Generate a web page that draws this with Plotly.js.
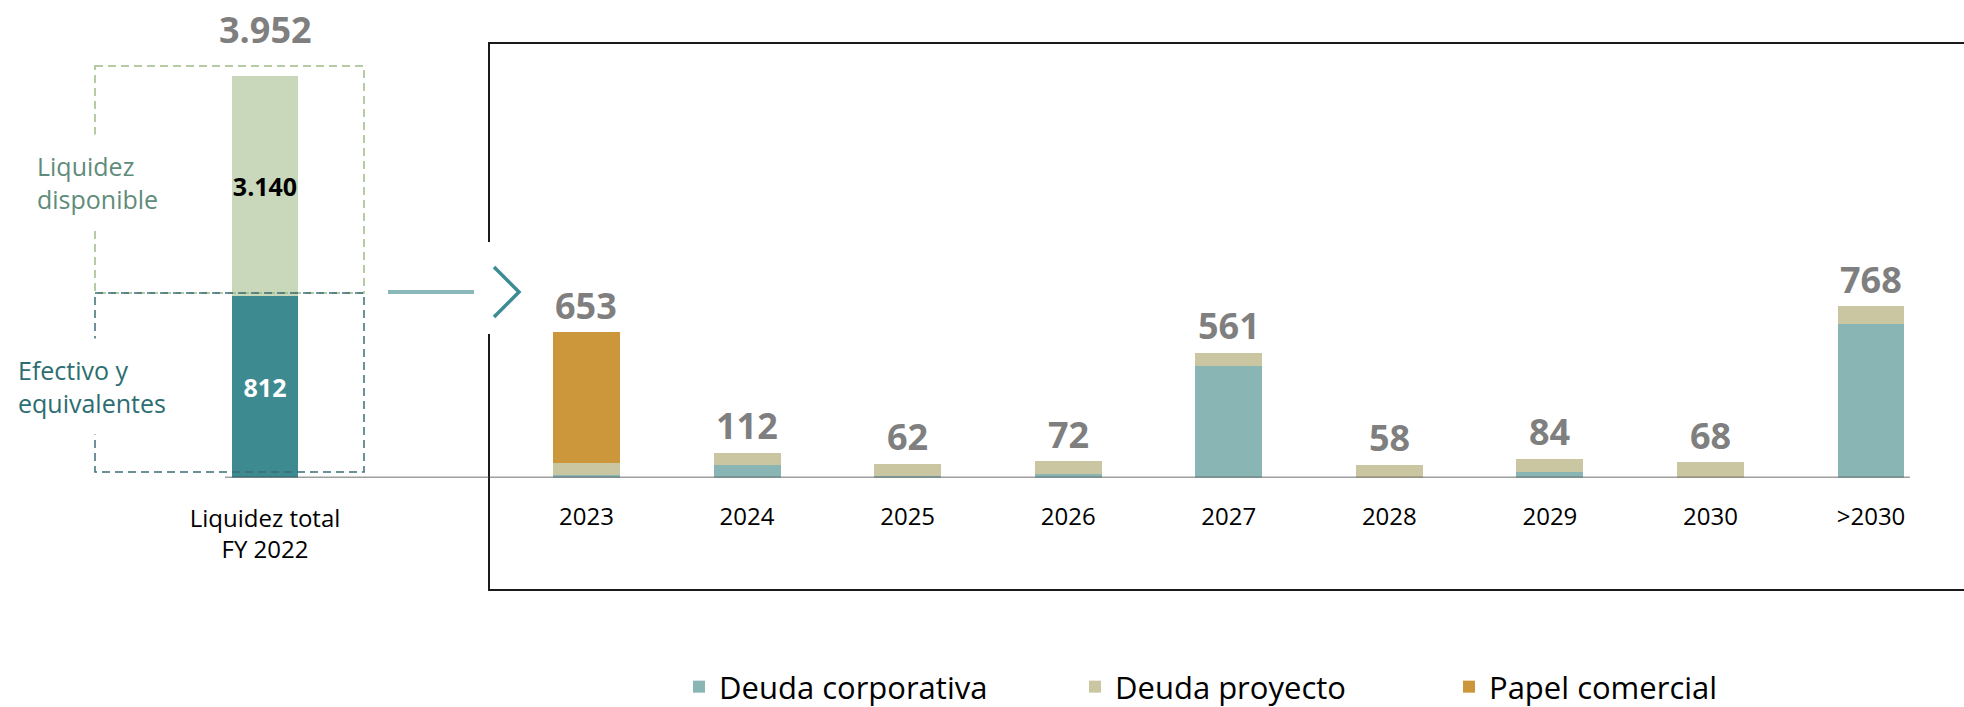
<!DOCTYPE html>
<html>
<head>
<meta charset="utf-8">
<script src="https://cdn.plot.ly/plotly-3.0.1.min.js"></script>
<style>
  html, body { margin: 0; padding: 0; background: #ffffff; }
  #chart { width: 1964px; height: 707px; }
</style>
</head>
<body>
<div id="chart"></div>
<script>
// ---------------- DATA ----------------
const categories = ['2023', '2024', '2025', '2026', '2027', '2028', '2029', '2030', '>2030'];
const deudaCorporativa = [12, 55, 5, 14, 500, 0, 25, 0, 690];
const deudaProyecto    = [55, 57, 57, 58, 61, 58, 59, 68, 78];
const papelComercial   = [586, 0, 0, 0, 0, 0, 0, 0, 0];

const liquidezCategory   = ['Liquidez total<br>FY 2022'];
const efectivo           = [812];
const liquidezDisponible = [3140];

const seriesNames = ['Deuda corporativa', 'Deuda proyecto', 'Papel comercial'];

// ---------------- HELPERS ----------------
const W = 1964, H = 707;
const X = p => p / W;
const Y = p => 1 - p / H;
const fmt = n => String(n).replace(/\B(?=(\d{3})+(?!\d))/g, '.');

const totals = categories.map((c, i) => deudaCorporativa[i] + deudaProyecto[i] + papelComercial[i]);
const liquidezTotal = efectivo[0] + liquidezDisponible[0];

const FONT = 'Open Sans, Noto Sans, sans-serif';
const cTeal = '#8ab5b5', cBeige = '#cbc6a2', cOrange = '#cc973a';

// ---------------- TRACES ----------------
const traces = [
  { type: 'bar', x: categories, y: deudaCorporativa, name: seriesNames[0],
    marker: { color: cTeal }, xaxis: 'x', yaxis: 'y', legend: 'legend', hoverinfo: 'skip' },
  { type: 'bar', x: categories, y: deudaProyecto, name: seriesNames[1],
    marker: { color: cBeige }, xaxis: 'x', yaxis: 'y', legend: 'legend2', hoverinfo: 'skip' },
  { type: 'bar', x: categories, y: papelComercial, name: seriesNames[2],
    marker: { color: cOrange }, xaxis: 'x', yaxis: 'y', legend: 'legend3', hoverinfo: 'skip' },
  { type: 'bar', x: liquidezCategory, y: efectivo, showlegend: false,
    marker: { color: '#3d8a91' }, xaxis: 'x2', yaxis: 'y2',
    text: efectivo.map(fmt), textposition: 'inside', insidetextanchor: 'middle',
    constraintext: 'none', textangle: 0,
    textfont: { family: FONT, size: 25, color: '#ffffff', weight: 700 }, hoverinfo: 'skip' },
  { type: 'bar', x: liquidezCategory, y: liquidezDisponible, showlegend: false,
    marker: { color: '#c9d7bb' }, xaxis: 'x2', yaxis: 'y3',
    text: liquidezDisponible.map(fmt), textposition: 'inside', insidetextanchor: 'middle',
    constraintext: 'none', textangle: 0,
    textfont: { family: FONT, size: 25, color: '#000000', weight: 700 }, hoverinfo: 'skip' }
];

// ---------------- ANNOTATIONS ----------------
const annotations = categories.map((c, i) => ({
  xref: 'x', yref: 'y', x: i, y: totals[i], text: fmt(totals[i]),
  yanchor: 'middle', yshift: 27, showarrow: false,
  font: { family: FONT, size: 36, color: '#7f7f7f', weight: 700 }
}));
annotations.push({
  xref: 'x2', yref: 'y3', x: 0, y: liquidezDisponible[0], text: fmt(liquidezTotal),
  yanchor: 'middle', yshift: 47, showarrow: false,
  font: { family: FONT, size: 36, color: '#7f7f7f', weight: 700 }
});
annotations.push({
  xref: 'paper', yref: 'paper', x: X(22), y: Y(183), xanchor: 'left', yanchor: 'middle',
  text: 'Liquidez<br>disponible', align: 'left', showarrow: false,
  bgcolor: '#ffffff', borderpad: 14,
  font: { family: FONT, size: 25, color: '#5f8c7a' }
});
annotations.push({
  xref: 'paper', yref: 'paper', x: X(3), y: Y(386), xanchor: 'left', yanchor: 'middle',
  text: 'Efectivo y<br>equivalentes', align: 'left', showarrow: false,
  bgcolor: '#ffffff', borderpad: 14,
  font: { family: FONT, size: 25, color: '#2c6d72' }
});

// ---------------- SHAPES ----------------
const path = pts => pts.map((p, i) => (i ? 'L' : 'M') + X(p[0]) + ',' + Y(p[1])).join(' ');
const shapes = [
  // frame (gap on the left edge for the chevron)
  { type: 'path', xref: 'paper', yref: 'paper', layer: 'below',
    path: path([[489, 242], [489, 43], [1975, 43]]), line: { color: '#1a1a1a', width: 2 } },
  { type: 'path', xref: 'paper', yref: 'paper', layer: 'below',
    path: path([[489, 334], [489, 590], [1975, 590]]), line: { color: '#1a1a1a', width: 2 } },
  // baseline
  { type: 'line', xref: 'paper', yref: 'y', x0: X(225), x1: X(1910), y0: 0, y1: 0,
    layer: 'above', line: { color: '#404040', width: 1.5 } },
  // dashed boxes
  { type: 'rect', xref: 'paper', yref: 'paper', x0: X(95), x1: X(364), y0: Y(66), y1: Y(293),
    layer: 'above', line: { color: '#9dba85', width: 1.5, dash: '8px,5px' } },
  { type: 'rect', xref: 'paper', yref: 'paper', x0: X(95), x1: X(364), y0: Y(293), y1: Y(472),
    layer: 'above', line: { color: '#3b6d78', width: 1.5, dash: '8px,5px' } },
  // arrow line + chevron
  { type: 'line', xref: 'paper', yref: 'paper', x0: X(388), x1: X(474), y0: Y(292), y1: Y(292),
    line: { color: '#8ab8b8', width: 4 } },
  { type: 'path', xref: 'paper', yref: 'paper',
    path: path([[494, 267], [519, 292], [494, 317]]), line: { color: '#3d8c94', width: 3.5 } }
];

// ---------------- LAYOUT ----------------
const legendBase = {
  orientation: 'h', xanchor: 'left', yanchor: 'middle', y: Y(687),
  bgcolor: 'rgba(0,0,0,0)', borderwidth: 0,
  font: { family: FONT, size: 31, color: '#000000' }
};

const layout = {
  width: W, height: H,
  margin: { l: 0, r: 0, t: 0, b: 0, autoexpand: false },
  paper_bgcolor: '#ffffff', plot_bgcolor: 'rgba(0,0,0,0)',
  font: { family: FONT, color: '#000000' },
  separators: ',.',
  barmode: 'stack',
  bargap: 0.583,
  hovermode: false,
  xaxis: {
    domain: [X(506.2), X(1951.3)], anchor: 'y', type: 'category',
    range: [-0.5, categories.length - 0.5], autorange: false,
    showline: false, showgrid: false, zeroline: false, ticks: '', ticklen: 0,
    ticklabelstandoff: 22, automargin: false,
    tickfont: { family: FONT, size: 24, color: '#000000' }
  },
  yaxis: {
    domain: [Y(477.5), Y(43)], anchor: 'x', range: [0, 1950], autorange: false,
    showline: false, showgrid: false, zeroline: false, showticklabels: false, ticks: ''
  },
  xaxis2: {
    domain: [X(185), X(345)], anchor: 'y2', type: 'category',
    range: [-0.5, 0.5], autorange: false,
    showline: false, showgrid: false, zeroline: false, ticks: '', ticklen: 0,
    ticklabelstandoff: 24, automargin: false,
    tickfont: { family: FONT, size: 24, color: '#000000' }
  },
  yaxis2: {
    domain: [Y(477.5), Y(296)], anchor: 'x2', range: [0, efectivo[0]], autorange: false,
    showline: false, showgrid: false, zeroline: false, showticklabels: false, ticks: ''
  },
  yaxis3: {
    domain: [Y(296), Y(76)], anchor: 'x2', range: [0, liquidezDisponible[0]], autorange: false,
    showline: false, showgrid: false, zeroline: false, showticklabels: false, ticks: ''
  },
  legend:  Object.assign({}, legendBase, { x: X(679) }),
  legend2: Object.assign({}, legendBase, { x: X(1075) }),
  legend3: Object.assign({}, legendBase, { x: X(1449) }),
  shapes: shapes,
  annotations: annotations
};

Plotly.newPlot('chart', traces, layout, { staticPlot: true, displayModeBar: false });
</script>
</body>
</html>
